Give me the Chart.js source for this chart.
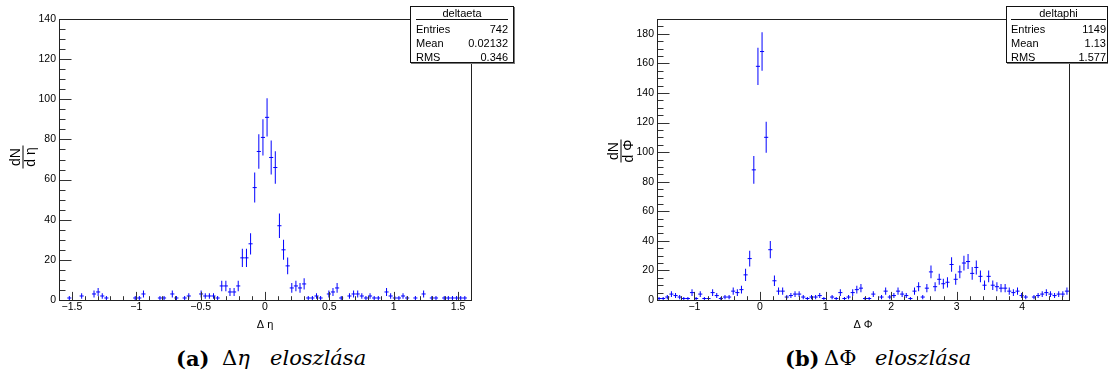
<!DOCTYPE html>
<html>
<head>
<meta charset="utf-8">
<title>deltaeta / deltaphi</title>
<script src="https://cdn.jsdelivr.net/npm/chart.js@4.4.1/dist/chart.umd.min.js"></script>
<style>
  html, body { margin: 0; padding: 0; background: #fff; }
  body { position: relative; width: 1108px; height: 381px; overflow: hidden;
         font-family: "Liberation Sans", Arial, sans-serif; }
  canvas { position: absolute; top: 0; }
  #etaCanvas { left: 0; }
  #phiCanvas { left: 597px; }
  .stats { position: absolute; top: 6px; height: 57px; box-sizing: border-box;
           border: 1px solid #111; background: #fff; font-size: 11px; color: #000;
           box-shadow: 1px 1px 0 #777; z-index: 2; }
  .stats .hd { height: 12px; line-height: 12px; text-align: center; border-bottom: 1px solid #111; }
  .stats .rows { padding-top: 2px; }
  .stats .row { display: flex; justify-content: space-between; height: 14px; line-height: 14px; }
  .cap { position: absolute; top: 348px; line-height: 21px; white-space: nowrap;
         font-family: "DejaVu Serif", "Liberation Serif", serif; font-size: 21px; color: #000; }
  .cap b { font-weight: bold; }
  .cap i { font-style: italic; }
</style>
</head>
<body>
<canvas id="etaCanvas" width="480" height="340"></canvas>
<canvas id="phiCanvas" width="480" height="340"></canvas>

<div class="stats" id="etaStatsBox" style="left:410px;width:104px;padding:0 5px"></div>
<div class="stats" id="phiStatsBox" style="left:1006px;width:102px;padding:0 1px 0 4px"></div>

<span class="cap" style="left:176px"><b>(a)</b></span>
<span class="cap" style="left:222px">Δ<i>η</i></span>
<span class="cap" style="left:270px"><i>eloszlása</i></span>

<span class="cap" style="left:785px"><b>(b)</b></span>
<span class="cap" style="left:824px">ΔΦ</span>
<span class="cap" style="left:875px"><i>eloszlása</i></span>

<script>
// ---- Δη histogram: 100 bins on [-1.6, 1.6] ----
const etaRange = [-1.6, 1.6];
const etaCounts = [
  0, 0, 1, 0, 0, 2, 0, 0, 3, 4,
  2, 1, 0, 0, 0, 0, 0, 0, 1, 1,
  3, 0, 0, 0, 1, 1, 0, 3, 1, 0,
  1, 2, 0, 0, 3, 2, 2, 2, 1, 7,
  7, 4, 4, 7, 21, 21, 28, 56, 74, 81,
  91, 71, 66, 37, 25, 17, 6, 7, 6, 8,
  1, 1, 2, 1, 0, 3, 4, 6, 1, 0,
  2, 3, 3, 2, 1, 2, 1, 1, 0, 4,
  2, 1, 1, 2, 1, 0, 1, 0, 3, 0,
  1, 1, 0, 1, 1, 1, 1, 1, 1, 0
];
const etaXTicks = [-1.5, -1, -0.5, 0, 0.5, 1, 1.5];
const etaYTicks = [0, 20, 40, 60, 80, 100, 120, 140];
const etaYMax = 140;
const etaStats = [['Entries', '742'], ['Mean', '0.02132'], ['RMS', '0.346']];

// ---- ΔΦ histogram: 100 bins on [-π/2, 3π/2] ----
const phiRange = [-Math.PI / 2, 3 * Math.PI / 2];
const phiCounts = [
  1, 1, 2, 4, 3, 2, 1, 1, 5, 1,
  4, 1, 1, 5, 3, 1, 2, 2, 6, 5,
  7, 17, 28, 88, 158, 168, 110, 34, 13, 6,
  6, 2, 3, 4, 4, 2, 1, 2, 2, 3,
  1, 0, 2, 1, 5, 1, 2, 5, 7, 8,
  1, 1, 4, 0, 2, 6, 2, 3, 6, 4,
  3, 1, 6, 9, 2, 8, 19, 9, 14, 11,
  12, 24, 14, 19, 25, 26, 18, 22, 16, 10,
  16, 10, 9, 8, 8, 6, 5, 6, 3, 2,
  0, 2, 3, 4, 5, 4, 3, 4, 4, 6
];
const phiXTicks = [-1, 0, 1, 2, 3, 4];
const phiYTicks = [0, 20, 40, 60, 80, 100, 120, 140, 160, 180];
const phiYMax = 190;
const phiStats = [['Entries', '1149'], ['Mean', '1.13'], ['RMS', '1.577']];

const BLUE = '#0000ff';
const AXIS_FONT = { family: 'Liberation Sans, Arial, sans-serif', size: 10.5 };

// ROOT-style frame, inward tick marks and the dN/dx fraction title
const rootAxes = {
  id: 'rootAxes',
  afterDatasetsDraw(chart, _args, o) {
    const { ctx, chartArea: a } = chart;
    const xs = chart.scales.x, ys = chart.scales.y;
    const L = Math.round(a.left) + 0.5, R = Math.round(a.right) + 0.5;
    const T = Math.round(a.top) + 0.5, B = Math.round(a.bottom) + 0.5;
    ctx.save();
    ctx.lineWidth = 1;
    ctx.strokeStyle = '#333';
    ctx.beginPath();
    const xk0 = Math.ceil(xs.min / o.xMinor - 1e-9), xk1 = Math.floor(xs.max / o.xMinor + 1e-9);
    for (let k = xk0; k <= xk1; k++) {
      const px = Math.round(xs.getPixelForValue(k * o.xMinor)) + 0.5;
      const len = (k % o.xPer === 0) ? o.xTickLen : o.xTickLen / 2;
      ctx.moveTo(px, B); ctx.lineTo(px, B - len);
    }
    const yk0 = Math.ceil(ys.min / o.yMinor - 1e-9), yk1 = Math.floor(ys.max / o.yMinor + 1e-9);
    for (let k = yk0; k <= yk1; k++) {
      const py = Math.round(ys.getPixelForValue(k * o.yMinor)) + 0.5;
      const len = (k % o.yPer === 0) ? o.yTickLen : o.yTickLen / 2;
      ctx.moveTo(L, py); ctx.lineTo(L + len, py);
    }
    ctx.stroke();
    ctx.strokeStyle = '#222';
    ctx.strokeRect(L, T, R - L, B - T);

    // rotated fraction title for the y axis
    const t = o.yTitle;
    ctx.translate(a.left + t.dx, (a.top + a.bottom) / 2 + t.dy);
    ctx.rotate(-Math.PI / 2);
    ctx.fillStyle = '#000';
    ctx.font = '14px "Liberation Sans", Arial, sans-serif';
    ctx.textAlign = 'center';
    ctx.textBaseline = 'alphabetic';
    ctx.fillText(t.num, 0, -2.5);
    ctx.fillText(t.den, 0, 12);
    ctx.beginPath();
    ctx.moveTo(-11.5, 0.5); ctx.lineTo(11.5, 0.5);
    ctx.strokeStyle = '#000';
    ctx.stroke();
    ctx.restore();
  }
};

function fmtTick(v) {
  return v < 0 ? '\u2212' + String(-v) : String(v);
}

function fillStats(id, rowsData, title) {
  const box = document.getElementById(id);
  const hd = document.createElement('div');
  hd.className = 'hd';
  hd.textContent = title;
  box.appendChild(hd);
  const rows = document.createElement('div');
  rows.className = 'rows';
  rowsData.forEach(([k, v]) => {
    const r = document.createElement('div');
    r.className = 'row';
    r.innerHTML = '<span>' + k + '</span><span>' + v + '</span>';
    rows.appendChild(r);
  });
  box.appendChild(rows);
}

function drawHistogram(canvasId, spec) {
  const [lo, hi] = spec.range;
  const binW = (hi - lo) / spec.counts.length;
  const centres = [], errBars = [];
  spec.counts.forEach((n, i) => {
    if (n <= 0) return;
    const x = lo + (i + 0.5) * binW;
    const e = Math.sqrt(n);
    centres.push({ x, y: n });
    errBars.push({ x, y: [n - e, n + e] });
  });

  const halfBinPx = (ctx) => {
    const s = ctx.chart.scales.x;
    if (!s) return 2;
    return Math.abs(s.getPixelForValue(lo + binW) - s.getPixelForValue(lo)) / 2;
  };

  return new Chart(document.getElementById(canvasId), {
    type: 'scatter',
    data: {
      datasets: [
        {
          type: 'bar',
          data: errBars,
          backgroundColor: BLUE,
          borderWidth: 0,
          inflateAmount: 0,
          barThickness: 1,
          grouped: false
        },
        {
          type: 'scatter',
          data: centres,
          pointStyle: 'line',
          pointRadius: halfBinPx,
          pointHoverRadius: halfBinPx,
          borderColor: BLUE,
          pointBorderColor: BLUE,
          pointBorderWidth: 1,
          showLine: false
        }
      ]
    },
    options: {
      responsive: false,
      devicePixelRatio: 1,
      animation: false,
      events: [],
      layout: { padding: { top: 19, bottom: 8, left: 0, right: spec.padRight } },
      plugins: {
        legend: { display: false },
        tooltip: { enabled: false },
        rootAxes: spec.axes
      },
      scales: {
        x: {
          type: 'linear',
          min: lo, max: hi,
          offset: false,
          grid: { display: false, drawTicks: false },
          border: { display: false },
          afterBuildTicks: (s) => { s.ticks = spec.xTicks.map(v => ({ value: v })); },
          afterFit: (s) => { s.height = 32; },
          ticks: {
            autoSkip: false, maxRotation: 0, padding: 1,
            color: '#000', font: AXIS_FONT,
            callback: (v) => fmtTick(v)
          },
          title: {
            display: true, text: spec.xTitle, color: '#000',
            font: { family: 'Liberation Sans, Arial, sans-serif', size: 11 },
            padding: { top: 0, bottom: 0 }
          }
        },
        y: {
          type: 'linear',
          min: 0, max: spec.yMax,
          grid: { display: false, drawTicks: false },
          border: { display: false },
          afterBuildTicks: (s) => { s.ticks = spec.yTicks.map(v => ({ value: v })); },
          afterFit: (s) => { s.width = spec.yAxisWidth; },
          ticks: {
            autoSkip: false, padding: 3,
            color: '#000', font: AXIS_FONT,
            callback: (v) => String(v)
          }
        }
      }
    },
    plugins: [rootAxes]
  });
}

drawHistogram('etaCanvas', {
  range: etaRange, counts: etaCounts,
  xTicks: etaXTicks, yTicks: etaYTicks, yMax: etaYMax,
  xTitle: 'Δ η', yAxisWidth: 59, padRight: 9,
  axes: { xMinor: 0.1, xPer: 5, xTickLen: 8.6, yMinor: 5, yPer: 4, yTickLen: 12,
          yTitle: { num: 'dN', den: 'd η', dx: -36.5, dy: -2.5 } }
});

drawHistogram('phiCanvas', {
  range: phiRange, counts: phiCounts,
  xTicks: phiXTicks, yTicks: phiYTicks, yMax: phiYMax,
  xTitle: 'Δ Φ', yAxisWidth: 60, padRight: 8,
  axes: { xMinor: 0.2, xPer: 5, xTickLen: 8.6, yMinor: 5, yPer: 4, yTickLen: 12,
          yTitle: { num: 'dN', den: 'd Φ', dx: -36.5, dy: -8.5 } }
});

fillStats('etaStatsBox', etaStats, 'deltaeta');
fillStats('phiStatsBox', phiStats, 'deltaphi');
</script>
</body>
</html>
